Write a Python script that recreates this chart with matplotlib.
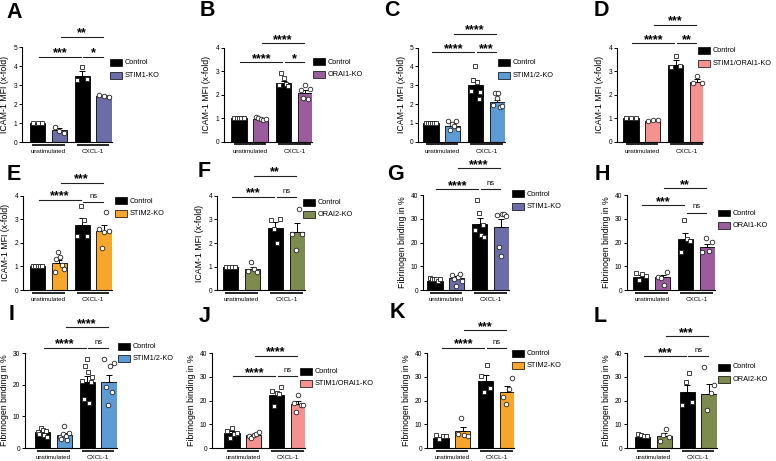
import matplotlib
matplotlib.use("Agg")
import matplotlib.pyplot as plt
from matplotlib.patches import Rectangle
import numpy as np

plt.rcParams['font.family'] = ['Liberation Sans', 'DejaVu Sans']

groups = ["unstimulated", "CXCL-1"]
control_label = "Control"
icam_label = "ICAM-1 MFI (x-fold)"
fib_label = "Fibrinogen binding in %"

# bar order: control unstim, KO unstim, control CXCL-1, KO CXCL-1
A_ko = "STIM1-KO"
A_means = [1.0, 0.63, 3.45, 2.40]
A_sem = [0.0, 0.12, 0.27, 0.05]
A_pts = [[1.0, 1.0, 1.0], [0.80, 0.60, 0.45], [3.25, 3.95, 3.30], [2.50, 2.42, 2.38]]
A_stars = ["***", "*", "**"]

B_ko = "ORAI1-KO"
B_means = [1.0, 0.97, 2.48, 2.06]
B_sem = [0.0, 0.03, 0.12, 0.12]
B_pts = [[1.0, 1.0, 1.0, 1.0, 1.0], [1.07, 1.02, 0.97, 0.93, 0.95],
         [2.40, 2.92, 2.72, 2.45, 2.38], [2.20, 1.85, 2.40, 1.80, 2.25]]
B_stars = ["****", "*", "****"]

C_ko = "STIM1/2-KO"
C_means = [1.0, 0.83, 3.01, 2.09]
C_sem = [0.0, 0.09, 0.27, 0.13]
C_pts = [[1.0, 1.0, 1.0, 1.0, 1.0, 1.0], [1.10, 0.60, 0.95, 0.85, 1.10, 0.65],
         [2.70, 3.30, 4.05, 3.15, 2.25, 2.65], [1.95, 2.58, 2.30, 2.58, 1.85, 1.90]]
C_stars = ["****", "***", "****"]

D_ko = "STIM1/ORAI1-KO"
D_means = [1.0, 0.90, 3.26, 2.52]
D_sem = [0.0, 0.03, 0.20, 0.13]
D_pts = [[1.0, 1.0, 1.0], [0.86, 0.92, 0.93], [3.19, 3.65, 3.20], [2.48, 2.79, 2.50]]
D_stars = ["****", "**", "***"]

E_ko = "STIM2-KO"
E_means = [1.0, 1.15, 2.76, 2.52]
E_sem = [0.0, 0.13, 0.28, 0.22]
E_pts = [[1.0, 1.0, 1.0, 1.0, 1.0], [0.75, 1.30, 1.60, 1.42, 1.05, 0.88],
         [2.30, 3.55, 2.95, 2.30], [2.60, 1.80, 2.45, 3.30, 2.50]]
E_stars = ["****", "ns", "***"]

F_ko = "ORAI2-KO"
F_means = [1.0, 0.88, 2.65, 2.45]
F_sem = [0.0, 0.10, 0.25, 0.38]
F_pts = [[1.0, 1.0, 1.0, 1.0], [0.82, 1.20, 0.90, 0.78], [2.98, 2.58, 1.99, 3.00], [2.37, 1.70, 3.46, 2.40]]
F_stars = ["***", "ns", "**"]

G_ko = "STIM1-KO"
G_means = [3.9, 4.9, 27.8, 26.4]
G_sem = [0.3, 0.8, 2.4, 3.4]
G_pts = [[4.9, 4.7, 4.5, 4.8, 3.9, 4.6], [6.3, 4.6, 1.8, 5.5, 6.6, 4.0],
         [25.3, 37.8, 32.6, 23.2, 27.5, 22.5], [31.5, 18.0, 14.3, 31.8, 32.2, 31.0]]
G_stars = ["****", "ns", "****"]

H_ko = "ORAI1-KO"
H_means = [5.6, 5.3, 21.3, 18.2]
H_sem = [0.7, 1.0, 2.8, 1.2]
H_pts = [[7.2, 4.3, 6.6, 5.9], [5.5, 5.0, 2.1, 7.6], [16.2, 29.3, 21.3, 20.6], [16.2, 21.7, 16.4, 20.2]]
H_stars = ["***", "ns", "**"]

I_ko = "STIM1/2-KO"
I_means = [4.9, 4.2, 21.0, 21.0]
I_sem = [0.4, 0.5, 1.7, 2.2]
I_pts = [[5.1, 4.5, 6.3, 5.8, 4.0, 5.5, 3.6], [3.4, 2.9, 4.3, 6.8, 3.9, 2.5, 4.7],
         [21.2, 15.6, 25.8, 28.1, 23.9, 14.2, 20.8, 22.5], [28.1, 19.3, 13.7, 25.8, 17.6, 27.0]]
I_stars = ["****", "ns", "****"]

J_ko = "STIM1/ORAI1-KO"
J_means = [6.3, 5.3, 22.2, 18.5]
J_sem = [0.8, 0.4, 1.4, 1.1]
J_pts = [[7.0, 4.2, 8.6, 6.0, 6.5], [5.0, 4.4, 5.5, 6.0, 6.8], [24.1, 17.5, 23.2, 22.6, 25.5], [19.0, 15.2, 22.2, 18.2, 18.0]]
J_stars = ["****", "ns", "****"]

K_ko = "STIM2-KO"
K_means = [4.2, 7.2, 28.4, 23.4]
K_sem = [0.4, 1.8, 2.3, 2.5]
K_pts = [[5.3, 3.9, 5.1, 4.9], [6.0, 12.5, 5.6, 5.2], [30.3, 23.7, 34.8, 25.4], [21.6, 18.5, 25.0, 29.3]]
K_stars = ["****", "ns", "***"]

L_ko = "ORAI2-KO"
L_means = [4.5, 5.2, 23.4, 22.6]
L_sem = [0.5, 1.1, 3.0, 4.2]
L_pts = [[5.9, 5.6, 5.2, 4.9], [2.8, 5.3, 8.0, 4.5], [18.0, 27.8, 31.4, 19.5], [34.1, 15.8, 23.0, 26.5]]
L_stars = ["***", "ns", "***"]

ko_colors = {
    "STIM1-KO": "#6c6ca8",
    "ORAI1-KO": "#9b5c9d",
    "STIM1/2-KO": "#5d9bd5",
    "STIM1/ORAI1-KO": "#f5918f",
    "STIM2-KO": "#f6a72b",
    "ORAI2-KO": "#7e8b4f",
}

W, H = 776, 461
fig = plt.figure(figsize=(W / 100, H / 100), dpi=100)

xpos = np.array([0, 1, 2.05, 3.05])
px_per_unit = 21.8
pairs = [(0, 2), (2, 3), (1, 3)]

# axis left/right/top/bottom (px), first bar centre (px), ymax, ystep,
# ylabel, significance line heights, legend anchor (px), letter centre (px)
layouts = {
    "A": (22, 112, 47, 142, 37.5, 5, 1, icam_label, [4.47, 4.47, 5.53], (110, 63), (14, 12)),
    "B": (224, 312, 47.7, 141.7, 239, 4, 1, icam_label, [3.38, 3.38, 4.19], (313, 62), (207, 11)),
    "C": (418, 505, 47.7, 141.7, 431, 5, 1, icam_label, [4.75, 4.75, 5.73], (498, 63), (392, 11)),
    "D": (617, 703, 47.7, 141.7, 631, 4, 1, icam_label, [4.19, 4.19, 4.97], (698, 51), (601, 11)),
    "E": (23, 112, 195.7, 290, 37.5, 4, 1, icam_label, [3.82, 3.75, 4.55], (115, 201), (14, 174)),
    "F": (217, 305, 196, 290, 230.7, 4, 1, icam_label, [3.97, 3.97, 4.85], (303, 202), (204, 171)),
    "G": (423, 509, 195, 290, 435, 40, 10, fib_label, [42.4, 42.4, 51.2], (512, 194), (396, 174)),
    "H": (627, 715, 195, 290, 640.8, 40, 10, fib_label, [35.7, 32.6, 42.9], (718, 213), (602, 174)),
    "I": (25, 117, 353, 448, 42.5, 30, 10, fib_label, [31.6, 31.6, 38.1], (118, 346), (12, 314)),
    "J": (212, 305, 353, 448, 232, 40, 10, fib_label, [30.2, 30.2, 38.9], (300, 371), (205, 317)),
    "K": (427, 514, 353, 448, 441, 40, 10, fib_label, [42.2, 42.2, 49.5], (512, 353), (397, 312)),
    "L": (627, 717, 353, 448, 642.5, 40, 10, fib_label, [38.6, 38.6, 47.1], (718, 367), (600, 316)),
}

panels = [
    ("A", A_ko, A_means, A_sem, A_pts, A_stars),
    ("B", B_ko, B_means, B_sem, B_pts, B_stars),
    ("C", C_ko, C_means, C_sem, C_pts, C_stars),
    ("D", D_ko, D_means, D_sem, D_pts, D_stars),
    ("E", E_ko, E_means, E_sem, E_pts, E_stars),
    ("F", F_ko, F_means, F_sem, F_pts, F_stars),
    ("G", G_ko, G_means, G_sem, G_pts, G_stars),
    ("H", H_ko, H_means, H_sem, H_pts, H_stars),
    ("I", I_ko, I_means, I_sem, I_pts, I_stars),
    ("J", J_ko, J_means, J_sem, J_pts, J_stars),
    ("K", K_ko, K_means, K_sem, K_pts, K_stars),
    ("L", L_ko, L_means, L_sem, L_pts, L_stars),
]


def draw_panel(letter, ko, means, sem, pts, stars):
    (axl, axr, axt, axb, c0, ymax, ystep, ylabel, sig_y, leg, let_xy) = layouts[letter]
    color = ko_colors[ko]
    ax = fig.add_axes([axl / W, 1 - axb / H, (axr - axl) / W, (axb - axt) / H])
    ax.set_xlim((axl - c0) / px_per_unit, (axr - c0) / px_per_unit)
    ax.set_ylim(0, ymax)
    colors = ["black", color, "black", color]

    ax.bar(xpos, means, width=0.7, color=colors, edgecolor="black", linewidth=0.6, zorder=2)
    for x, m, e in zip(xpos, means, sem):
        if e > 0:
            ax.errorbar(x, m, yerr=[[0], [e]], color="black", lw=0.7, capsize=2,
                        capthick=0.7, zorder=3)
    for k, (x, vals) in enumerate(zip(xpos, pts)):
        n = len(vals)
        offs = np.linspace(-0.22, 0.22, n) if n > 1 else np.zeros(1)
        marker = "s" if k % 2 == 0 else "o"
        ax.plot(x + offs, vals, ls="none", marker=marker, ms=3.3, mfc="white",
                mec="#222222", mew=0.6, zorder=4, clip_on=False)

    ax.spines[["top", "right"]].set_visible(False)
    for sp in ("left", "bottom"):
        ax.spines[sp].set_linewidth(0.8)
    ax.set_xticks([])
    ax.set_yticks(np.arange(0, ymax + ystep / 2, ystep))
    ax.tick_params(axis="y", labelsize=4.8, length=2.5, width=0.7, pad=1)
    ax.set_ylabel(ylabel, fontsize=6.3)
    off = 12.5 if ymax < 10 else 16
    ax.yaxis.set_label_coords(-off / (axr - axl), 0.5)

    # group underlines and labels
    ah = axb - axt
    trans = ax.get_xaxis_transform()
    for gi, name in enumerate(groups):
        xc = (xpos[2 * gi] + xpos[2 * gi + 1]) / 2
        ax.plot([xc - 0.75, xc + 0.75], [-2.6 / ah, -2.6 / ah], color="black", lw=1.2,
                transform=trans, clip_on=False, solid_capstyle="butt")
        ax.text(xc, -9.5 / ah, name, transform=trans, ha="center", va="center", fontsize=4.5)

    # significance bars
    for (i, j), txt, y in zip(pairs, stars, sig_y):
        ax.plot([xpos[i] + 0.06, xpos[j] - 0.06], [y, y], color="#222222", lw=0.8, clip_on=False)
        xm = (xpos[i] + xpos[j]) / 2
        if txt == "ns":
            ax.annotate(txt, (xm, y), xytext=(0, 1.5), textcoords="offset points",
                        ha="center", va="bottom", fontsize=5.5, annotation_clip=False)
        else:
            ax.annotate(txt, (xm, y), xytext=(0, 0.3), textcoords="offset points",
                        ha="center", va="baseline", fontsize=9, fontweight="bold",
                        annotation_clip=False)

    # legend
    lx, ly = leg
    for r, (lab, c) in enumerate([(control_label, "black"), (ko, color)]):
        yy = ly + r * 12.8
        fig.patches.append(Rectangle((lx / W, 1 - (yy + 3.5) / H), 12 / W, 7 / H,
                                     facecolor=c, edgecolor="black", lw=0.5,
                                     transform=fig.transFigure, figure=fig))
        fig.text((lx + 15) / W, 1 - yy / H, lab, ha="left", va="center", fontsize=5.3)

    fig.text(let_xy[0] / W, 1 - let_xy[1] / H, letter, ha="center", va="center",
             fontsize=15.5, fontweight="bold")


for p in panels:
    draw_panel(*p)

fig.savefig("out.png", dpi=100)
